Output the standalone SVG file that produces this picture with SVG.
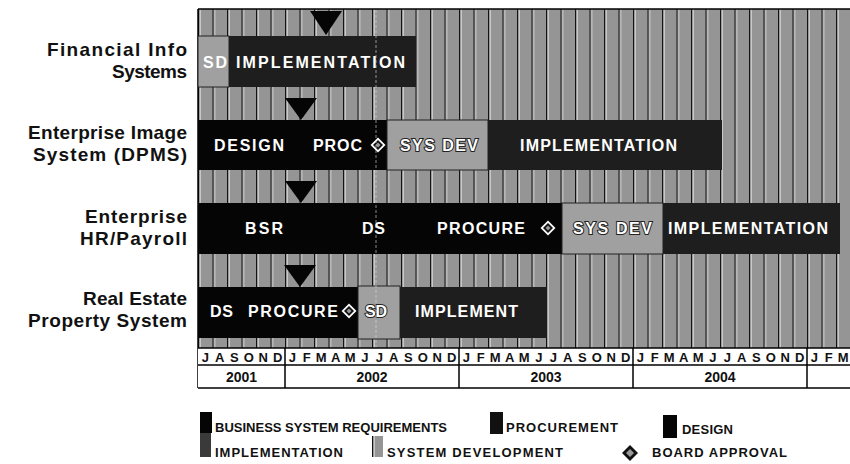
<svg xmlns="http://www.w3.org/2000/svg" width="850" height="464" viewBox="0 0 850 464">
<defs>
<pattern id="stripes" patternUnits="userSpaceOnUse" x="198" y="0" width="14.5" height="10">
<rect x="0" y="0" width="14.5" height="10" fill="#959595"/>
<rect x="0" y="0" width="1.5" height="10" fill="#111"/>
<rect x="1.5" y="0" width="1" height="10" fill="#f4f4f4"/>
</pattern>
<g id="dia">
<polygon points="0,-7.5 7.5,0 0,7.5 -7.5,0" fill="#fff"/>
<polygon points="0,-5 5,0 0,5 -5,0" fill="#111"/>
<polygon points="0,-2.5 2.5,0 0,2.5 -2.5,0" fill="#999"/>
</g>
</defs>
<style>
.lbl{font-family:"Liberation Sans",Arial,sans-serif;font-weight:bold;font-size:19px;fill:#111;text-anchor:end}
.bt{font-family:"Liberation Sans",Arial,sans-serif;font-weight:bold;font-size:16px;fill:#fff}
.sdt{stroke:#222;stroke-width:2;paint-order:stroke}
.blk{fill:#050505}
.imp{fill:#1e1e1e}
.sd{fill:#a0a0a0;stroke:#222;stroke-width:1}
.tri{fill:#050505}
.mo{font-family:"Liberation Sans",Arial,sans-serif;font-weight:bold;font-size:13px;fill:#111;text-anchor:middle}
.yr{font-family:"Liberation Sans",Arial,sans-serif;font-weight:bold;font-size:14px;fill:#111;text-anchor:middle}
.lg{font-family:"Liberation Sans",Arial,sans-serif;font-weight:bold;font-size:13px;fill:#111}
.ln{stroke:#000;stroke-width:1.5;fill:none}
</style>

<g id="chart-bg">
<rect x="198" y="9" width="652" height="339" fill="url(#stripes)"/>
<line class="ln" x1="198" y1="9" x2="850" y2="9"/>
<line class="ln" x1="198" y1="9" x2="198" y2="388"/>
</g>

<g id="labels">
<text class="lbl" x="187" y="56" textLength="140" lengthAdjust="spacing">Financial Info</text>
<text class="lbl" x="187" y="78" textLength="75" lengthAdjust="spacing">Systems</text>
<text class="lbl" x="187" y="139" textLength="159" lengthAdjust="spacing">Enterprise Image</text>
<text class="lbl" x="187" y="161" textLength="154" lengthAdjust="spacing">System (DPMS)</text>
<text class="lbl" x="187" y="223" textLength="102" lengthAdjust="spacing">Enterprise</text>
<text class="lbl" x="187" y="245" textLength="107" lengthAdjust="spacing">HR/Payroll</text>
<text class="lbl" x="187" y="305" textLength="104" lengthAdjust="spacing">Real Estate</text>
<text class="lbl" x="187" y="327" textLength="159" lengthAdjust="spacing">Property System</text>
</g>

<g id="row-financial">
<rect class="sd" x="198" y="36" width="31" height="51"/>
<rect class="imp" x="229" y="36" width="187" height="51"/>
<polygon class="tri" points="310,11 342,11 326,35"/>
<text class="bt" x="203" y="68" textLength="24" lengthAdjust="spacing">SD</text>
<text class="bt" x="236" y="68" textLength="169" lengthAdjust="spacing">IMPLEMENTATION</text>
</g>

<g id="row-image">
<rect class="blk" x="198" y="120" width="189" height="50"/>
<rect class="sd" x="387" y="120" width="101" height="50"/>
<rect class="imp" x="488" y="120" width="234" height="50"/>
<polygon class="tri" points="285,98 317,98 301,120"/>
<text class="bt" x="214" y="151" textLength="70" lengthAdjust="spacing">DESIGN</text>
<text class="bt" x="313" y="151" textLength="49" lengthAdjust="spacing">PROC</text>
<use href="#dia" x="378" y="145"/>
<text class="bt sdt" x="400" y="151" textLength="78" lengthAdjust="spacing">SYS DEV</text>
<text class="bt" x="520" y="151" textLength="157" lengthAdjust="spacing">IMPLEMENTATION</text>
</g>

<g id="row-hr">
<rect class="blk" x="198" y="203" width="364" height="51"/>
<rect class="sd" x="562" y="203" width="101" height="51"/>
<rect class="imp" x="663" y="203" width="177" height="51"/>
<polygon class="tri" points="285,181 317,181 301,203"/>
<text class="bt" x="245" y="234" textLength="38" lengthAdjust="spacing">BSR</text>
<text class="bt" x="362" y="234" textLength="23" lengthAdjust="spacing">DS</text>
<text class="bt" x="437" y="234" textLength="88" lengthAdjust="spacing">PROCURE</text>
<use href="#dia" x="548" y="228"/>
<text class="bt sdt" x="573" y="234" textLength="79" lengthAdjust="spacing">SYS DEV</text>
<text class="bt" x="668" y="234" textLength="160" lengthAdjust="spacing">IMPLEMENTATION</text>
</g>

<g id="row-realestate">
<rect class="blk" x="198" y="287" width="160" height="51"/>
<rect class="sd" x="358" y="286" width="42" height="53"/>
<rect class="imp" x="400" y="287" width="147" height="51"/>
<polygon class="tri" points="284,265 316,265 300,287"/>
<text class="bt" x="210" y="317" textLength="23" lengthAdjust="spacing">DS</text>
<text class="bt" x="248" y="317" textLength="90" lengthAdjust="spacing">PROCURE</text>
<use href="#dia" x="349" y="311"/>
<text class="bt sdt" x="365" y="317" textLength="22" lengthAdjust="spacing">SD</text>
<text class="bt" x="415" y="317" textLength="103" lengthAdjust="spacing">IMPLEMENT</text>
</g>

<g id="connectors">
<line x1="376" y1="10" x2="376" y2="347" stroke="#ddd" stroke-width="1" stroke-dasharray="3,2" opacity="0.6"/>
</g>

<g id="timeline">
<rect x="198" y="348" width="652" height="40" fill="#fff"/>
<line class="ln" x1="198" y1="348" x2="850" y2="348"/>
<line class="ln" x1="198" y1="365" x2="850" y2="365"/>
<line class="ln" x1="198" y1="388" x2="850" y2="388"/>
<line class="ln" x1="285" y1="348" x2="285" y2="388"/>
<line class="ln" x1="459" y1="348" x2="459" y2="388"/>
<line class="ln" x1="633" y1="348" x2="633" y2="388"/>
<line class="ln" x1="807" y1="348" x2="807" y2="388"/>
<text class="mo" y="361.5" x="205.25 219.75 234.25 248.75 263.25 277.75 292.25 306.75 321.25 335.75 350.25 364.75 379.25 393.75 408.25 422.75 437.25 451.75 466.25 480.75 495.25 509.75 524.25 538.75 553.25 567.75 582.25 596.75 611.25 625.75 640.25 654.75 669.25 683.75 698.25 712.75 727.25 741.75 756.25 770.75 785.25 799.75 814.25 828.75 843.25">JASONDJFMAMJJASONDJFMAMJJASONDJFMAMJJASONDJFM</text>
<text class="yr" x="241.5" y="382">2001</text>
<text class="yr" x="372" y="382">2002</text>
<text class="yr" x="546" y="382">2003</text>
<text class="yr" x="720" y="382">2004</text>
</g>

<g id="legend">
<rect x="200" y="412" width="12" height="21" fill="#050505"/>
<text class="lg" x="215" y="432" textLength="232" lengthAdjust="spacing">BUSINESS SYSTEM REQUIREMENTS</text>
<rect x="490" y="412" width="13" height="22" fill="#111"/>
<text class="lg" x="506" y="432" textLength="112" lengthAdjust="spacing">PROCUREMENT</text>
<rect x="663" y="415" width="14" height="23" fill="#050505"/>
<text class="lg" x="682" y="434" textLength="51" lengthAdjust="spacing">DESIGN</text>
<rect x="200" y="433" width="11" height="24" fill="#3a3a3a"/>
<text class="lg" x="215" y="457" textLength="128" lengthAdjust="spacing">IMPLEMENTATION</text>
<rect x="372" y="436" width="11" height="21" fill="url(#stripes)"/>
<text class="lg" x="387" y="457" textLength="176" lengthAdjust="spacing">SYSTEM DEVELOPMENT</text>
<polygon points="630,445 638,453 630,461 622,453" fill="#111"/>
<polygon points="630,449 634,453 630,457 626,453" fill="#999"/>
<text class="lg" x="652" y="457" textLength="135" lengthAdjust="spacing">BOARD APPROVAL</text>
</g>
</svg>
